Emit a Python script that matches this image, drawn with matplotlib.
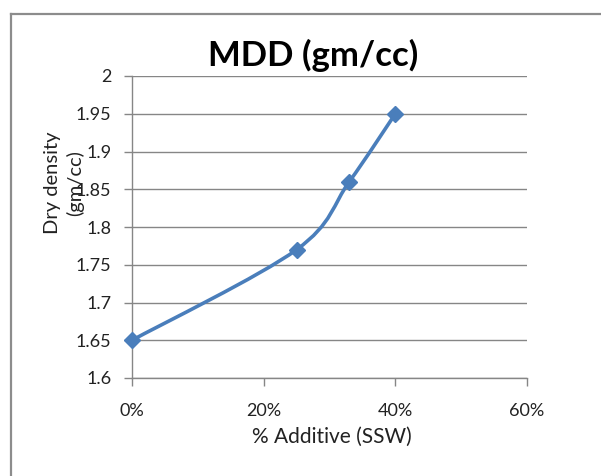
import numpy as np
import matplotlib
matplotlib.use("Agg")
import matplotlib.pyplot as plt
from matplotlib.path import Path
from matplotlib.patches import PathPatch
from matplotlib.lines import Line2D

# data
additive = [0.0, 0.25, 0.33, 0.40]
mdd = [1.65, 1.77, 1.86, 1.95]
xticks = [0.0, 0.2, 0.4, 0.6]
xtick_labels = ['0%', '20%', '40%', '60%']
yticks = [1.6, 1.65, 1.7, 1.75, 1.8, 1.85, 1.9, 1.95, 2.0]
ytick_labels = ['1.6', '1.65', '1.7', '1.75', '1.8', '1.85', '1.9', '1.95', '2']

plt.rcParams['font.family'] = ['Lato', 'DejaVu Sans']

W, H = 601, 476
fig = plt.figure(figsize=(W / 100, H / 100), dpi=100)

# outer chart frame (runs off the right and bottom edges)
frame_col = '#8c8c8c'
fig.add_artist(Line2D([11 / W, 11 / W], [0, 1 - 14 / H], color=frame_col, lw=1.6))
fig.add_artist(Line2D([11 / W, 1.0], [1 - 14 / H, 1 - 14 / H], color=frame_col, lw=1.6))

# plot area in pixels: x 132..527, y 76..378
ax = fig.add_axes([132 / W, 1 - 378 / H, (527 - 132) / W, (378 - 76) / H])
ax.set_xlim(0, 0.6)
ax.set_ylim(1.6, 2.0)
ax.set_xticks(xticks)
ax.set_xticklabels(xtick_labels)
ax.set_yticks(yticks)
ax.set_yticklabels(ytick_labels)
ax.tick_params(axis='both', direction='out', length=6, width=1, color='#868686',
               labelsize=13, labelcolor='#222222')
ax.tick_params(axis='x', pad=12)
ax.tick_params(axis='y', pad=9)
for s in ['top', 'right']:
    ax.spines[s].set_visible(False)
for s in ['left', 'bottom']:
    ax.spines[s].set_color('#868686')
    ax.spines[s].set_linewidth(1)
ax.yaxis.grid(True, color='#868686', linewidth=1)
ax.set_axisbelow(True)

# smoothed line (Catmull-Rom style Bezier, like Excel's smoothing)
pts = np.column_stack([additive, mdd])
verts = [tuple(pts[0])]
codes = [Path.MOVETO]
n = len(pts)
for i in range(n - 1):
    p0 = pts[i - 1] if i > 0 else pts[i]
    p1 = pts[i]
    p2 = pts[i + 1]
    p3 = pts[i + 2] if i + 2 < n else pts[i + 1]
    c1 = p1 + (p2 - p0) / 6.0
    c2 = p2 - (p3 - p1) / 6.0
    verts += [tuple(c1), tuple(c2), tuple(p2)]
    codes += [Path.CURVE4] * 3
line_col = '#4a7ebb'
ax.add_patch(PathPatch(Path(verts, codes), facecolor='none', edgecolor=line_col,
                       linewidth=2.6, capstyle='round', joinstyle='round', zorder=3))
ax.plot(additive, mdd, linestyle='none', marker='D', markersize=8.5,
        color=line_col, zorder=4, clip_on=False)

fig.text(313 / W, 1 - 55 / H, 'MDD (gm/cc)', ha='center', va='center',
         fontsize=25, fontweight='bold', color='black')
fig.text(332 / W, 1 - 437 / H, '% Additive (SSW)', ha='center', va='center',
         fontsize=15, color='#222222')
fig.text(64 / W, 1 - 183 / H, 'Dry density\n(gm/cc)', ha='center', va='center',
         rotation=90, fontsize=14.5, color='#222222', linespacing=1.35)

fig.savefig('out.png', dpi=100)
